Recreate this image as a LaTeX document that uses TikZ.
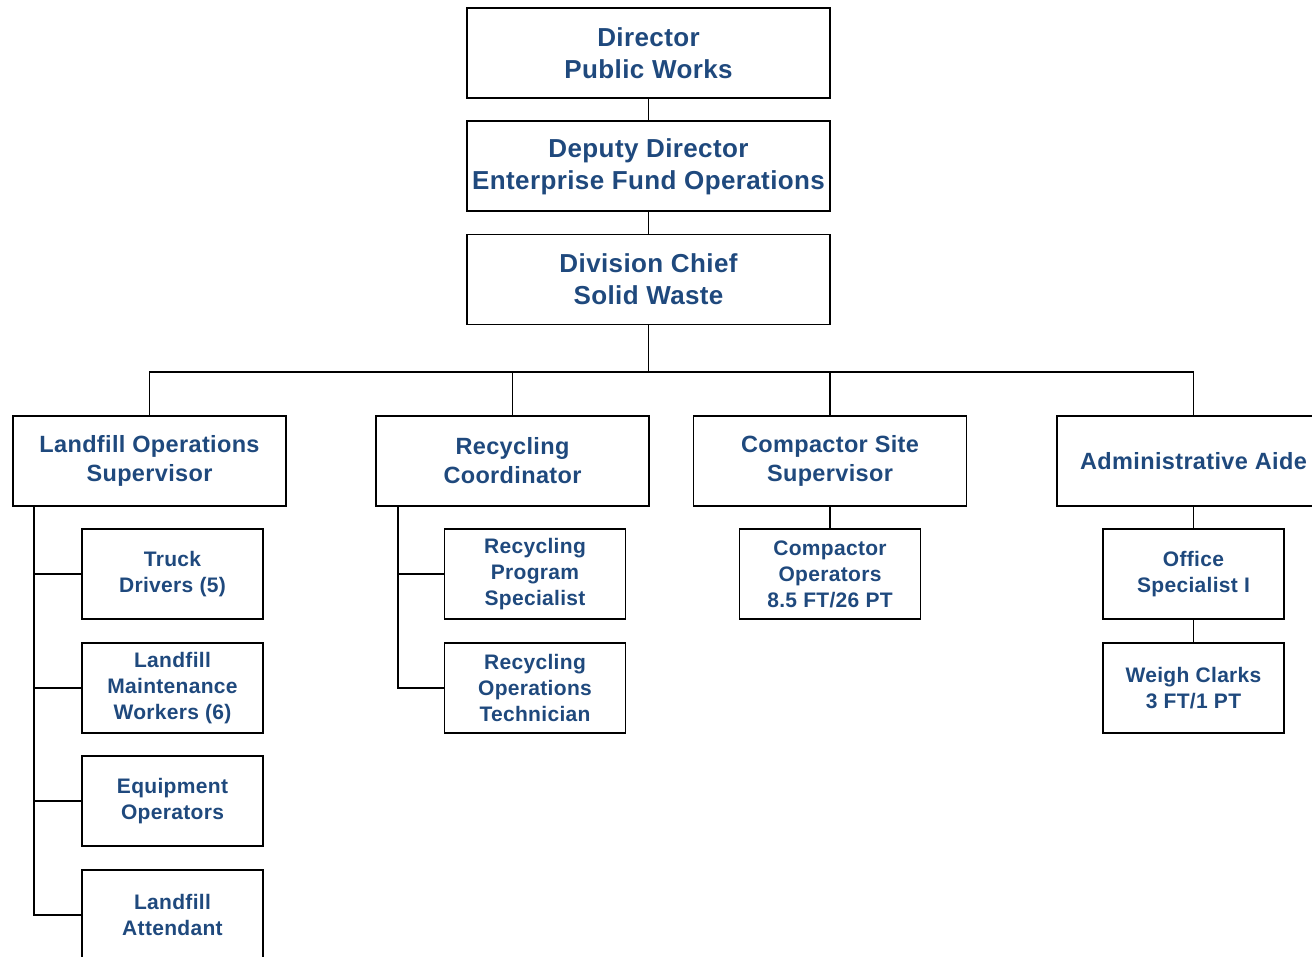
\documentclass[tikz,border=0pt]{standalone}
\usepackage{fontspec}
\setmainfont{Liberation Sans}[LetterSpace=1.5]
\usepackage{tikz}
\usetikzlibrary{positioning,calc}
\definecolor{chartblue}{RGB}{31,73,125}

\begin{document}
\begin{tikzpicture}
	[
		x=1pt, y=-1pt,
		every node/.style = {shape=rectangle, draw, line width=1.8pt, align=center, text=chartblue, font=\bfseries},
		chief/.style = {minimum width=363pt, minimum height=90pt, font=\bfseries\fontsize{26}{32}\selectfont},
		head/.style = {minimum width=273pt, minimum height=90pt, font=\bfseries\fontsize{23.5}{29}\selectfont},
		staff/.style = {minimum width=181pt, minimum height=90pt, font=\bfseries\fontsize{21}{26}\selectfont},
		every path/.style = {line width=1.8pt},
	]
  \useasboundingbox (0,0) rectangle (1312,957);

  % top of the chart
  \node[chief] (dir) at (648.5,53) {Director\\Public Works};
  \node[chief] (dep) [below=21.5pt of dir] {Deputy Director\\Enterprise Fund Operations};
  \node[chief] (sw) [below=21.5pt of dep] {Division Chief\\Solid Waste};

  % section heads
  \node[head] (lops) at (149.5,461) {Landfill Operations\\Supervisor};
  \node[head] (rcoord) at (512.5,461) {Recycling\\Coordinator};
  \node[head] (csite) at (830,461) {Compactor Site\\Supervisor};
  \node[head] (aide) at (1193.5,461) {Administrative Aide};

  % landfill staff
  \node[staff] (truck) at (172.5,574) {Truck\\Drivers (5)};
  \node[staff] (maint) [below=21.8pt of truck] {Landfill\\Maintenance\\Workers (6)};
  \node[staff] (equip) [below=21.8pt of maint] {Equipment\\Operators};
  \node[staff] (attend) [below=21.8pt of equip] {Landfill\\Attendant};

  % recycling staff
  \node[staff] (rprog) at (535,574) {Recycling\\Program\\Specialist};
  \node[staff] (rtech) [below=21.8pt of rprog] {Recycling\\Operations\\Technician};

  % compactor and office staff
  \node[staff] (cops) at (830,574) {Compactor\\Operators\\8.5 FT/26 PT};
  \node[staff] (office) at (1193.5,574) {Office\\Specialist I};
  \node[staff] (weigh) [below=21.8pt of office] {Weigh Clarks\\3 FT/1 PT};

  \coordinate (bus) at (648.5,372);
  \coordinate (lrail) at ([xshift=22pt]lops.south west);
  \coordinate (rrail) at ([xshift=23pt]rcoord.south west);

  \draw (dir) -- (dep);
  \draw (dep) -- (sw);
  \draw (sw) -- (bus);
  \draw (lops.north) |- (bus) -| (aide.north);
  \draw (rcoord.north) -- (rcoord.north |- bus);
  \draw (csite.north) -- (csite.north |- bus);

  \draw (lrail) |- (attend.west);
  \foreach \n in {truck,maint,equip}
    \draw (\n.west) -- (\n.west -| lrail);
  \draw (rrail) |- (rtech.west);
  \draw (rprog.west) -- (rprog.west -| rrail);

  \draw (csite) -- (cops);
  \draw (aide) -- (office);
  \draw (office) -- (weigh);

\end{tikzpicture}
\end{document}
